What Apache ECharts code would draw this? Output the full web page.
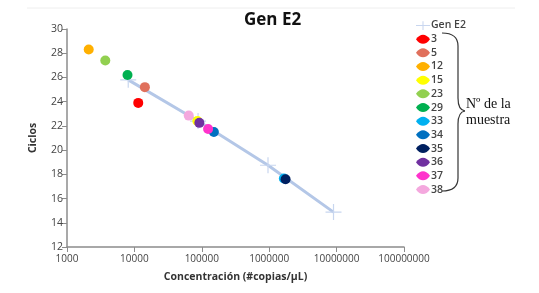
<!DOCTYPE html>
<html style="height: 100%">
<head>
    <meta charset="utf-8">
    <script src="https://cdn.jsdelivr.net/npm/echarts@6/dist/echarts.min.js"></script>
</head>
<body style="margin:0; height: 293px; width: 539px; background-color: #fff">
    <div id="container" style="height: 293px; width: 539px"></div>
    <script type="text/javascript">
        // curva estándar Gen E2
        var standardX = [8100, 88000, 960000, 9000000];
        var standardY = [25.8, 22.4, 18.75, 14.88];

        // muestras
        var sampleNames = ['3', '5', '12', '15', '23', '29', '33', '34', '35', '36', '37', '38'];
        var sampleColors = ['#ff0000', '#e0705c', '#ffb000', '#ffff00', '#92d050', '#00b050',
            '#00b0f0', '#0070c0', '#002060', '#7030a0', '#ff33cc', '#f4a8de'];
        var sampleX = [11400, 14300, 2100, 86000, 3700, 7900, 1650000, 151000, 1750000, 92000, 124000, 64000];
        var sampleY = [23.9, 25.2, 28.3, 22.4, 27.4, 26.2, 17.65, 21.5, 17.6, 22.25, 21.75, 22.85];

        var yTicks = { min: 12, max: 30, interval: 2 };

        var crossPath = 'path://M0,7.4h16v1.2h-16z M7.4,0h1.2v16h-1.2z';
        var lensIcon = 'path://M0,5 C4,-1 10,-1 14,5 C10,11 4,11 0,5z';

        var dom = document.getElementById("container");
        var myChart = echarts.init(dom);

        var series = [{
            name: 'Gen E2',
            type: 'line',
            data: standardX.map(function (x, i) { return [x, standardY[i]]; }),
            symbol: crossPath,
            symbolSize: 16,
            showAllSymbol: true,
            lineStyle: { color: '#b4c7e7', width: 3 },
            itemStyle: { color: '#c8d6ef' },
            z: 1
        }];
        for (var i = 0; i < sampleNames.length; i++) {
            series.push({
                name: sampleNames[i],
                type: 'scatter',
                data: [[sampleX[i], sampleY[i]]],
                symbol: 'circle',
                symbolSize: 10,
                itemStyle: { color: sampleColors[i], opacity: 1 },
                z: 2 + i
            });
        }

        var legendData = [{ name: 'Gen E2', icon: 'path://M0,4.5h16v1.2h-16z M7.4,0h1.2v10h-1.2z' }];
        sampleNames.forEach(function (n) {
            legendData.push({ name: n, icon: lensIcon });
        });

        // llave "}" junto a la leyenda
        var braceStyle = { fill: null, stroke: '#333', lineWidth: 1.2 };
        var braceParts = [
            { type: 'bezierCurve', shape: { x1: 442, y1: 33, cpx1: 458, cpy1: 33, x2: 458, y2: 46 } },
            { type: 'line', shape: { x1: 458, y1: 46, x2: 458, y2: 98 } },
            { type: 'bezierCurve', shape: { x1: 458, y1: 98, cpx1: 458, cpy1: 110, x2: 465, y2: 111 } },
            { type: 'bezierCurve', shape: { x1: 465, y1: 111, cpx1: 458, cpy1: 112, x2: 458, y2: 124 } },
            { type: 'line', shape: { x1: 458, y1: 124, x2: 458, y2: 178 } },
            { type: 'bezierCurve', shape: { x1: 458, y1: 178, cpx1: 458, cpy1: 191, x2: 442, y2: 191 } }
        ];
        braceParts.forEach(function (p) { p.style = braceStyle; p.silent = true; });

        var option = {
            animation: false,
            title: {
                text: 'Gen E2',
                left: 239,
                top: 7,
                textStyle: { fontFamily: 'Open Sans', fontSize: 17, fontWeight: 'bold', color: '#111' }
            },
            legend: {
                orient: 'vertical',
                left: 411,
                top: 15,
                itemWidth: 14,
                itemHeight: 10,
                itemGap: 2.67,
                data: legendData,
                textStyle: {
                    fontFamily: 'Open Sans', fontSize: 10.5, fontWeight: 600, color: '#444',
                    padding: [0, 0, 0, -4]
                }
            },
            grid: { left: 67, right: 135, top: 29, bottom: 46 },
            xAxis: {
                type: 'log',
                logBase: 10,
                min: 1000,
                max: 100000000,
                name: 'Concentración (#copias/µL)',
                nameLocation: 'middle',
                nameGap: 25,
                nameTextStyle: { fontFamily: 'Open Sans', fontSize: 10.5, fontWeight: 'bold', color: '#333' },
                axisLine: { lineStyle: { color: '#8c8c8c', width: 1.5 } },
                axisTick: { show: true, length: 5, lineStyle: { color: '#8c8c8c' } },
                axisLabel: {
                    fontFamily: 'Open Sans', fontSize: 10, color: '#444', margin: 7,
                    formatter: function (v) { return String(Math.round(v)); }
                },
                splitLine: { show: false }
            },
            yAxis: {
                type: 'value',
                min: yTicks.min,
                max: yTicks.max,
                interval: yTicks.interval,
                name: 'Ciclos',
                nameLocation: 'middle',
                nameGap: 28,
                nameTextStyle: { fontFamily: 'Open Sans', fontSize: 10.5, fontWeight: 'bold', color: '#333' },
                axisLine: { show: true, lineStyle: { color: '#8c8c8c', width: 1.5 } },
                axisTick: { show: true, length: 5, lineStyle: { color: '#8c8c8c' } },
                axisLabel: { fontFamily: 'Open Sans', fontSize: 10.5, color: '#444', margin: 4 },
                splitLine: { show: false }
            },
            graphic: [{
                type: 'line',
                shape: { x1: 27, y1: 8, x2: 515, y2: 8 },
                style: { stroke: '#eeeeee', lineWidth: 1 },
                silent: true
            }].concat(braceParts).concat([{
                type: 'text',
                left: 466,
                top: 96,
                style: {
                    text: 'Nº de la\nmuestra',
                    font: '14px "Liberation Serif"',
                    lineHeight: 16,
                    fill: '#111'
                },
                silent: true
            }]),
            series: series
        };
        myChart.setOption(option);
    </script>
</body>
</html>
